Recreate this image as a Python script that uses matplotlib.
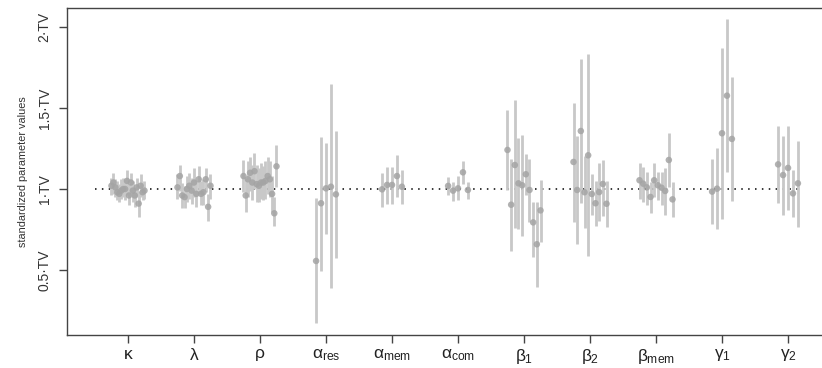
import numpy as np
import matplotlib
matplotlib.use("Agg")
import matplotlib.pyplot as plt

plt.rcParams['font.family'] = ['Liberation Sans', 'DejaVu Sans']
plt.rcParams['mathtext.fontset'] = 'custom'
plt.rcParams['mathtext.rm'] = 'Liberation Sans'
plt.rcParams['mathtext.it'] = 'Liberation Sans'
plt.rcParams['mathtext.bf'] = 'Liberation Sans:bold'

labels = [r'$\kappa$', r'$\lambda$', r'$\rho$', r'$\alpha_{\mathrm{res}}$', r'$\alpha_{\mathrm{mem}}$',
          r'$\alpha_{\mathrm{com}}$', r'$\beta_1$', r'$\beta_2$', r'$\beta_{\mathrm{mem}}$',
          r'$\gamma_1$', r'$\gamma_2$']

kappa_est = [1.02, 1.04, 1.01, 0.98, 0.97, 0.99, 1.00, 1.00, 1.05, 0.96, 1.04, 0.99, 0.96, 1.01, 0.91, 1.02, 0.98, 0.99]
kappa_lo = [0.96, 0.97, 0.95, 0.93, 0.92, 0.94, 0.95, 0.93, 0.96, 0.90, 0.97, 0.92, 0.89, 0.95, 0.83, 0.95, 0.93, 0.94]
kappa_hi = [1.07, 1.10, 1.06, 1.05, 1.03, 1.06, 1.07, 1.06, 1.12, 1.03, 1.10, 1.05, 1.01, 1.07, 0.99, 1.09, 1.04, 1.05]

lambda_est = [1.01, 1.08, 0.96, 0.95, 1.00, 1.02, 0.99, 1.04, 0.97, 1.06, 0.97, 0.98, 1.06, 0.89, 1.02]
lambda_lo = [0.94, 0.99, 0.88, 0.88, 0.92, 0.94, 0.91, 0.95, 0.89, 0.97, 0.90, 0.90, 0.98, 0.80, 0.94]
lambda_hi = [1.09, 1.15, 1.04, 1.02, 1.08, 1.10, 1.07, 1.13, 1.05, 1.14, 1.05, 1.06, 1.13, 0.97, 1.09]

rho_est = [1.08, 0.96, 1.06, 1.10, 1.04, 1.11, 1.03, 1.02, 1.04, 1.04, 1.05, 1.08, 1.06, 0.97, 0.85, 1.14]
rho_lo = [0.98, 0.86, 0.95, 0.99, 0.93, 1.00, 0.92, 0.92, 0.94, 0.93, 0.94, 0.97, 0.95, 0.86, 0.77, 1.01]
rho_hi = [1.18, 1.07, 1.17, 1.20, 1.15, 1.22, 1.15, 1.13, 1.16, 1.14, 1.17, 1.20, 1.17, 1.08, 0.95, 1.27]

ares_est = [0.556, 0.912, 1.004, 1.014, 0.967]
ares_lo = [0.171, 0.496, 0.720, 0.387, 0.572]
ares_hi = [0.943, 1.319, 1.286, 1.648, 1.360]

amem_est = [0.998, 1.025, 1.025, 1.080, 1.014]
amem_lo = [0.891, 0.907, 0.907, 0.953, 0.907]
amem_hi = [1.101, 1.138, 1.134, 1.210, 1.117]

acom_est = [1.019, 0.990, 1.004, 1.103, 0.994]
acom_lo = [0.963, 0.928, 0.932, 1.031, 0.938]
acom_hi = [1.072, 1.045, 1.080, 1.175, 1.045]

b1_est = [1.241, 0.903, 1.148, 1.035, 1.023, 1.091, 0.994, 0.794, 0.659, 0.868]
b1_lo = [0.994, 0.619, 0.757, 0.753, 0.710, 0.963, 0.798, 0.582, 0.397, 0.675]
b1_hi = [1.488, 1.185, 1.549, 1.313, 1.333, 1.216, 1.185, 0.922, 0.922, 1.056]

b2_est = [1.167, 0.994, 1.358, 0.980, 1.208, 0.969, 0.912, 0.981, 1.031, 0.909]
b2_lo = [0.798, 0.659, 0.912, 0.757, 0.588, 0.840, 0.773, 0.804, 0.835, 0.763]
b2_hi = [1.533, 1.327, 1.800, 1.204, 1.835, 1.093, 1.051, 1.159, 1.179, 1.051]

bmem_est = [1.054, 1.033, 1.010, 0.951, 1.054, 1.023, 1.008, 0.988, 1.179, 0.936]
bmem_lo = [0.936, 0.922, 0.901, 0.854, 0.953, 0.932, 0.901, 0.840, 1.014, 0.829]
bmem_hi = [1.162, 1.138, 1.107, 1.045, 1.162, 1.107, 1.107, 1.128, 1.346, 1.045]

g1_est = [0.984, 1.002, 1.344, 1.576, 1.309]
g1_lo = [0.782, 0.753, 0.813, 1.107, 0.928]
g1_hi = [1.185, 1.251, 1.872, 2.048, 1.693]

g2_est = [1.152, 1.086, 1.130, 0.973, 1.035]
g2_lo = [0.912, 0.841, 0.870, 0.825, 0.767]
g2_hi = [1.389, 1.327, 1.389, 1.117, 1.298]

groups = [
    (kappa_est, kappa_lo, kappa_hi),
    (lambda_est, lambda_lo, lambda_hi),
    (rho_est, rho_lo, rho_hi),
    (ares_est, ares_lo, ares_hi),
    (amem_est, amem_lo, amem_hi),
    (acom_est, acom_lo, acom_hi),
    (b1_est, b1_lo, b1_hi),
    (b2_est, b2_lo, b2_hi),
    (bmem_est, bmem_lo, bmem_hi),
    (g1_est, g1_lo, g1_hi),
    (g2_est, g2_lo, g2_hi),
]

yticks = [0.5, 1.0, 1.5, 2.0]
ytick_labels = ['0.5\u00b7TV', '1\u00b7TV', '1.5\u00b7TV', '2\u00b7TV']

fig = plt.figure(figsize=(8.22, 3.68), dpi=100)
ax = fig.add_axes([67/822, 1-335/368, 1-67/822, (335-8)/368])

ax.plot([0.5, 11.2], [1, 1], color='black', linestyle=(0, (1, 3.5)), linewidth=1.1, zorder=1)

for i, (est, lo, hi) in enumerate(groups):
    n = len(est)
    half = 0.25 if n >= 10 else 0.15
    xs = (i + 1) + np.linspace(-half, half, n)
    est = np.asarray(est); lo = np.asarray(lo); hi = np.asarray(hi)
    ax.vlines(xs, lo, hi, color='#c8c8c8', linewidth=2.0, zorder=2)
    ax.scatter(xs, est, s=22, color='#a4a4a4', alpha=0.85, edgecolors='none', zorder=3)

ax.set_xlim(0.076, 11.515)
ax.set_ylim(0.099, 2.117)
ax.set_xticks(range(1, len(labels) + 1))
ax.set_xticklabels(labels, fontsize=12.5, color='#222222')
ax.set_yticks(yticks)
ax.set_yticklabels(ytick_labels, rotation=90, va='center', fontsize=10, color='#333333')
ax.set_ylabel('standardized parameter values', fontsize=7.8, color='#333333', labelpad=7)

for s in ['left', 'bottom', 'top']:
    ax.spines[s].set_color('#444444')
    ax.spines[s].set_linewidth(1.0)
ax.spines['right'].set_visible(False)
ax.tick_params(axis='both', length=6, color='#444444', width=1.0)
ax.tick_params(axis='x', pad=2.5)
ax.tick_params(axis='y', pad=5)

fig.savefig('out.png', dpi=100)
